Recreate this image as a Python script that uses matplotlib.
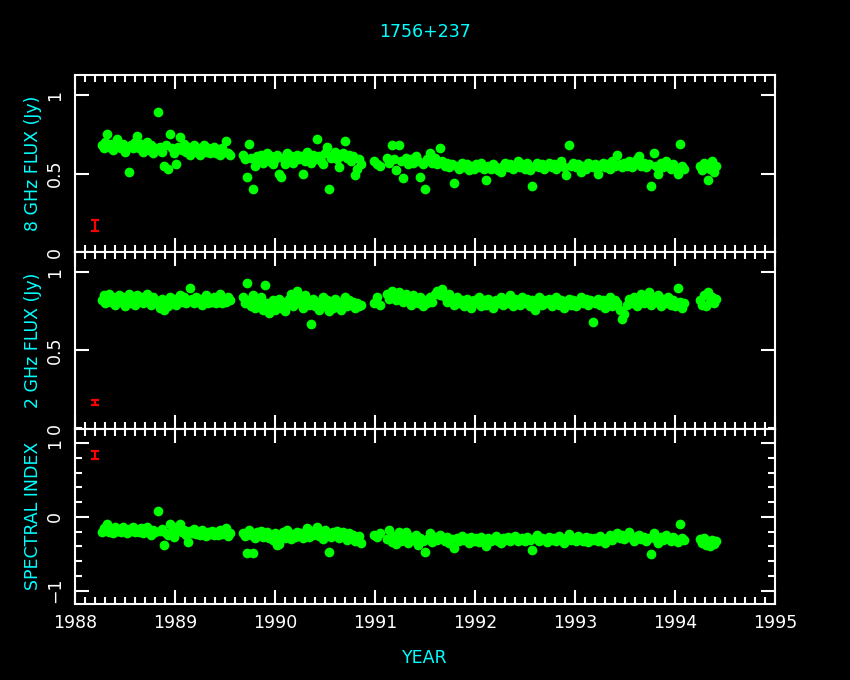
import numpy as np
import matplotlib
matplotlib.use("Agg")
import matplotlib.pyplot as plt
from matplotlib.ticker import MultipleLocator

# ---------------- data ----------------
t_a = [1988.27, 1988.29, 1988.30, 1988.32, 1988.34, 1988.36, 1988.38, 1988.40, 1988.42, 1988.44,
       1988.46, 1988.48, 1988.50, 1988.52, 1988.54, 1988.56, 1988.58, 1988.60, 1988.62, 1988.64,
       1988.66, 1988.68, 1988.70, 1988.72, 1988.74, 1988.76, 1988.78, 1988.80, 1988.83, 1988.85,
       1988.87, 1988.89, 1988.91, 1988.93, 1988.95, 1988.97, 1988.99, 1989.01, 1989.03, 1989.05,
       1989.07, 1989.09, 1989.11, 1989.13, 1989.15, 1989.17, 1989.19, 1989.21, 1989.23, 1989.25,
       1989.27, 1989.29, 1989.31, 1989.33, 1989.35, 1989.37, 1989.39, 1989.41, 1989.43, 1989.45,
       1989.47, 1989.49, 1989.51, 1989.53, 1989.55]
f8_a = [0.68, 0.66, 0.70, 0.75, 0.67, 0.69, 0.65, 0.68, 0.72, 0.67,
        0.66, 0.69, 0.64, 0.67, 0.51, 0.68, 0.66, 0.70, 0.74, 0.66,
        0.69, 0.64, 0.67, 0.70, 0.65, 0.68, 0.63, 0.66, 0.89, 0.67,
        0.64, 0.55, 0.68, 0.53, 0.75, 0.66, 0.63, 0.56, 0.67, 0.73,
        0.65, 0.69, 0.64, 0.67, 0.62, 0.66, 0.68, 0.64, 0.66, 0.62,
        0.65, 0.68, 0.64, 0.66, 0.63, 0.65, 0.67, 0.63, 0.65, 0.62,
        0.66, 0.64, 0.71, 0.63, 0.62]
f2_a = [0.82, 0.85, 0.80, 0.83, 0.86, 0.81, 0.84, 0.79, 0.83, 0.85,
        0.81, 0.84, 0.78, 0.82, 0.86, 0.80, 0.83, 0.79, 0.85, 0.82,
        0.84, 0.80, 0.83, 0.86, 0.81, 0.79, 0.84, 0.82, 0.80, 0.77,
        0.83, 0.76, 0.81, 0.78, 0.84, 0.80, 0.83, 0.79, 0.82, 0.85,
        0.81, 0.84, 0.80, 0.82, 0.90, 0.83, 0.80, 0.84, 0.81, 0.83,
        0.79, 0.82, 0.85, 0.80, 0.83, 0.81, 0.84, 0.80, 0.82, 0.86,
        0.80, 0.83, 0.81, 0.84, 0.82]
si_a = [-0.20, -0.15, -0.18, -0.10, -0.21, -0.17, -0.22, -0.14, -0.19, -0.16,
        -0.20, -0.13, -0.18, -0.22, -0.16, -0.19, -0.14, -0.21, -0.17, -0.20,
        -0.15, -0.22, -0.18, -0.14, -0.20, -0.24, -0.17, -0.21, 0.08, -0.19,
        -0.16, -0.38, -0.22, -0.25, -0.10, -0.20, -0.27, -0.13, -0.19, -0.09,
        -0.21, -0.17, -0.24, -0.34, -0.19, -0.22, -0.16, -0.23, -0.20, -0.25,
        -0.18, -0.22, -0.26, -0.20, -0.23, -0.19, -0.24, -0.21, -0.25, -0.18,
        -0.23, -0.20, -0.15, -0.26, -0.22]

t_b = [1989.68, 1989.70, 1989.72, 1989.74, 1989.76, 1989.78, 1989.80, 1989.82, 1989.84, 1989.86,
       1989.88, 1989.90, 1989.92, 1989.94, 1989.96, 1989.98, 1990.00, 1990.02, 1990.04, 1990.06,
       1990.08, 1990.10, 1990.12, 1990.14, 1990.16, 1990.18, 1990.20, 1990.22, 1990.24, 1990.26,
       1990.28, 1990.30, 1990.32, 1990.34, 1990.36, 1990.38, 1990.40, 1990.42, 1990.44, 1990.46,
       1990.48, 1990.50, 1990.52, 1990.54, 1990.56, 1990.58, 1990.60, 1990.62, 1990.64, 1990.66,
       1990.68, 1990.70, 1990.72, 1990.74, 1990.76, 1990.78, 1990.80, 1990.82, 1990.84, 1990.86]
f8_b = [0.62, 0.59, 0.48, 0.69, 0.60, 0.40, 0.55, 0.61, 0.58, 0.62,
        0.57, 0.60, 0.63, 0.58, 0.61, 0.56, 0.59, 0.62, 0.50, 0.48,
        0.60, 0.56, 0.63, 0.58, 0.61, 0.57, 0.60, 0.62, 0.59, 0.61,
        0.50, 0.58, 0.64, 0.60, 0.57, 0.62, 0.59, 0.72, 0.61, 0.58,
        0.56, 0.63, 0.67, 0.40, 0.60, 0.62, 0.64, 0.59, 0.54, 0.61,
        0.63, 0.71, 0.60, 0.62, 0.58, 0.61, 0.49, 0.53, 0.59, 0.56]
f2_b = [0.84, 0.80, 0.93, 0.82, 0.78, 0.85, 0.77, 0.81, 0.79, 0.84,
        0.76, 0.92, 0.80, 0.74, 0.78, 0.82, 0.76, 0.80, 0.83, 0.77,
        0.81, 0.75, 0.79, 0.83, 0.86, 0.78, 0.82, 0.88, 0.80, 0.84,
        0.77, 0.85, 0.81, 0.79, 0.67, 0.83, 0.78, 0.81, 0.76, 0.80,
        0.84, 0.78, 0.82, 0.75, 0.80, 0.77, 0.83, 0.79, 0.81, 0.76,
        0.80, 0.84, 0.78, 0.82, 0.79, 0.81, 0.77, 0.80, 0.78, 0.79]
si_b = [-0.22, -0.26, -0.49, -0.18, -0.24, -0.49, -0.28, -0.21, -0.25, -0.19,
        -0.27, -0.23, -0.20, -0.29, -0.24, -0.31, -0.22, -0.38, -0.36, -0.26,
        -0.21, -0.28, -0.17, -0.25, -0.30, -0.23, -0.27, -0.20, -0.26, -0.22,
        -0.29, -0.24, -0.15, -0.27, -0.19, -0.25, -0.21, -0.14, -0.26, -0.23,
        -0.30, -0.18, -0.24, -0.47, -0.27, -0.21, -0.25, -0.19, -0.29, -0.23,
        -0.20, -0.26, -0.31, -0.22, -0.28, -0.24, -0.33, -0.30, -0.26, -0.35]

t_c = [1990.99, 1991.02, 1991.05, 1991.12, 1991.14, 1991.17, 1991.19, 1991.21, 1991.24, 1991.26,
       1991.28, 1991.31, 1991.33, 1991.36, 1991.38, 1991.41, 1991.43, 1991.45, 1991.48, 1991.50,
       1991.52, 1991.55, 1991.57, 1991.60, 1991.62, 1991.65, 1991.67, 1991.70, 1991.72, 1991.74,
       1991.77, 1991.79, 1991.82, 1991.84, 1991.87, 1991.89, 1991.92, 1991.94, 1991.96, 1991.99,
       1992.01, 1992.04, 1992.06, 1992.09, 1992.11, 1992.13, 1992.16, 1992.18, 1992.21, 1992.23,
       1992.26, 1992.28, 1992.30, 1992.33, 1992.35, 1992.38, 1992.40, 1992.43, 1992.45, 1992.47,
       1992.50, 1992.52, 1992.55, 1992.57, 1992.60, 1992.62, 1992.64, 1992.67, 1992.69, 1992.72,
       1992.74, 1992.77, 1992.79, 1992.81, 1992.84, 1992.86, 1992.89, 1992.91, 1992.94, 1992.96,
       1992.98, 1993.01, 1993.03, 1993.06, 1993.08, 1993.11, 1993.13, 1993.15, 1993.18, 1993.20,
       1993.23, 1993.25, 1993.28, 1993.30, 1993.32, 1993.35, 1993.37, 1993.40, 1993.42, 1993.45,
       1993.47, 1993.49, 1993.52, 1993.54, 1993.57, 1993.59, 1993.62, 1993.64, 1993.66, 1993.69,
       1993.71, 1993.74, 1993.76, 1993.79, 1993.81, 1993.83, 1993.86, 1993.88, 1993.91, 1993.93,
       1993.96, 1993.98, 1994.00, 1994.03, 1994.05, 1994.07, 1994.09]
f8_c = [0.58, 0.56, 0.55, 0.60, 0.57, 0.68, 0.59, 0.52, 0.68, 0.58,
        0.47, 0.60, 0.56, 0.59, 0.57, 0.61, 0.58, 0.48, 0.56, 0.40,
        0.59, 0.63, 0.57, 0.60, 0.56, 0.66, 0.58, 0.55, 0.57, 0.54,
        0.56, 0.44, 0.55, 0.53, 0.57, 0.54, 0.56, 0.52, 0.55, 0.53,
        0.56, 0.54, 0.57, 0.53, 0.46, 0.55, 0.53, 0.56, 0.54, 0.52,
        0.51, 0.55, 0.57, 0.54, 0.56, 0.53, 0.55, 0.58, 0.54, 0.56,
        0.53, 0.57, 0.52, 0.42, 0.55, 0.57, 0.54, 0.56, 0.53, 0.55,
        0.57, 0.54, 0.56, 0.53, 0.55, 0.58, 0.54, 0.49, 0.68, 0.55,
        0.57, 0.54, 0.56, 0.51, 0.55, 0.53, 0.57, 0.55, 0.54, 0.56,
        0.50, 0.55, 0.57, 0.54, 0.56, 0.53, 0.58, 0.55, 0.62, 0.56,
        0.54, 0.57, 0.55, 0.58, 0.54, 0.56, 0.59, 0.61, 0.55, 0.57,
        0.54, 0.56, 0.42, 0.63, 0.55, 0.50, 0.57, 0.54, 0.58, 0.55,
        0.53, 0.56, 0.54, 0.50, 0.69, 0.55, 0.53]
f2_c = [0.80, 0.84, 0.79, 0.86, 0.83, 0.88, 0.85, 0.82, 0.87, 0.84,
        0.81, 0.86, 0.83, 0.79, 0.85, 0.82, 0.80, 0.84, 0.78, 0.82,
        0.80, 0.84, 0.81, 0.86, 0.88, 0.85, 0.89, 0.84, 0.81, 0.86,
        0.83, 0.79, 0.84, 0.80, 0.82, 0.78, 0.83, 0.81, 0.77, 0.82,
        0.80, 0.84, 0.78, 0.82, 0.79, 0.83, 0.81, 0.77, 0.82, 0.80,
        0.84, 0.79, 0.82, 0.80, 0.85, 0.78, 0.83, 0.81, 0.79, 0.84,
        0.80, 0.83, 0.78, 0.82, 0.76, 0.81, 0.84, 0.79, 0.82, 0.80,
        0.83, 0.78, 0.81, 0.84, 0.79, 0.82, 0.77, 0.80, 0.83, 0.79,
        0.82, 0.78, 0.81, 0.84, 0.80, 0.83, 0.79, 0.82, 0.68, 0.80,
        0.83, 0.79, 0.82, 0.77, 0.81, 0.84, 0.78, 0.82, 0.80, 0.76,
        0.70, 0.73, 0.79, 0.83, 0.80, 0.84, 0.78, 0.82, 0.86, 0.80,
        0.83, 0.87, 0.79, 0.84, 0.81, 0.85, 0.78, 0.83, 0.80, 0.84,
        0.79, 0.82, 0.78, 0.90, 0.81, 0.77, 0.80]
si_c = [-0.24, -0.27, -0.22, -0.30, -0.18, -0.34, -0.26, -0.37, -0.21, -0.32,
        -0.28, -0.20, -0.35, -0.27, -0.31, -0.24, -0.38, -0.29, -0.33, -0.47,
        -0.30, -0.22, -0.34, -0.27, -0.31, -0.25, -0.29, -0.33, -0.27, -0.35,
        -0.30, -0.42, -0.28, -0.33, -0.26, -0.31, -0.29, -0.35, -0.27, -0.32,
        -0.29, -0.34, -0.27, -0.31, -0.40, -0.28, -0.33, -0.30, -0.26, -0.32,
        -0.35, -0.28, -0.31, -0.27, -0.33, -0.29, -0.26, -0.32, -0.30, -0.28,
        -0.33, -0.27, -0.31, -0.45, -0.29, -0.25, -0.32, -0.28, -0.30, -0.34,
        -0.27, -0.31, -0.29, -0.33, -0.26, -0.30, -0.35, -0.28, -0.23, -0.31,
        -0.28, -0.33, -0.26, -0.30, -0.32, -0.27, -0.34, -0.29, -0.31, -0.28,
        -0.33, -0.26, -0.30, -0.35, -0.28, -0.24, -0.31, -0.27, -0.22, -0.29,
        -0.25, -0.30, -0.27, -0.21, -0.29, -0.32, -0.26, -0.24, -0.30, -0.27,
        -0.33, -0.28, -0.50, -0.22, -0.30, -0.35, -0.27, -0.31, -0.25, -0.29,
        -0.32, -0.27, -0.30, -0.34, -0.09, -0.28, -0.31]

t_d = [1994.25, 1994.27, 1994.29, 1994.31, 1994.33, 1994.35, 1994.37, 1994.39, 1994.41]
f8_d = [0.55, 0.52, 0.57, 0.54, 0.46, 0.53, 0.58, 0.51, 0.55]
f2_d = [0.82, 0.79, 0.85, 0.78, 0.87, 0.81, 0.84, 0.80, 0.83]
si_d = [-0.30, -0.35, -0.28, -0.38, -0.33, -0.40, -0.31, -0.36, -0.32]

# typical error bars (x, y, half-length) for each panel
err_x = [1988.20, 1988.20, 1988.20]
err_y = [0.17, 0.167, 0.84]
err_h = [0.035, 0.015, 0.05]

title = "1756+237"
ylabels = ["8 GHz FLUX (Jy)", "2 GHz FLUX (Jy)", "SPECTRAL INDEX"]
xlabel = "YEAR"
year_ticks = [1988, 1989, 1990, 1991, 1992, 1993, 1994, 1995]

t = np.array(t_a + t_b + t_c + t_d)
series = [np.array(f8_a + f8_b + f8_c + f8_d),
          np.array(f2_a + f2_b + f2_c + f2_d),
          np.array(si_a + si_b + si_c + si_d)]

# ---------------- styling ----------------
CYAN = "#00ffff"
GREEN = "#00ff00"
RED = "#ff0000"
FS = 12.5
plt.rcParams["font.family"] = ["DejaVu Sans"]

fig = plt.figure(figsize=(8.5, 6.8), dpi=100, facecolor="black")
W, H = 850.0, 680.0
left, right = 75 / W, 775 / W
bounds = [(75, 252), (252, 428.5), (428.5, 604)]
ylims = [(0, 1.128), (0, 1.128), (-1.18, 1.2)]
yt = [[0, 0.5, 1], [0, 0.5, 1], [-1, 0, 1]]
ytl = [["0", "0.5", "1"], ["0", "0.5", "1"], ["\u22121", "0", "1"]]

axes = []
for i, (top, bot) in enumerate(bounds):
    ax = fig.add_axes([left, 1 - bot / H, right - left, (bot - top) / H])
    ax.set_facecolor("black")
    ax.plot(t, series[i], ls="", marker="o", ms=7, mew=0, color=GREEN)
    ax.errorbar([err_x[i]], [err_y[i]], yerr=[err_h[i]], fmt="none",
                ecolor=RED, elinewidth=1.6, capsize=3, capthick=1.6)
    ax.set_xlim(1988, 1995)
    ax.set_ylim(*ylims[i])
    ax.set_yticks(yt[i])
    ax.set_yticklabels(ytl[i])
    ax.set_xticks(year_ticks)
    ax.xaxis.set_minor_locator(MultipleLocator(0.1))
    if i == 2:
        ax.yaxis.set_minor_locator(MultipleLocator(0.2))
    for s in ax.spines.values():
        s.set_color("white")
        s.set_linewidth(1.5)
    ax.tick_params(which="both", direction="in", top=True, right=True,
                   colors="white", width=1.5, labelsize=FS)
    ax.tick_params(which="major", length=10)
    ax.tick_params(which="minor", length=5)
    ax.tick_params(axis="y", labelrotation=90, pad=8)
    ax.tick_params(axis="x", pad=7)
    for lbl in ax.get_yticklabels():
        lbl.set_va("center")
    if i < 2:
        ax.tick_params(axis="x", labelbottom=False)
    ax.set_ylabel(ylabels[i], color=CYAN, fontsize=FS)
    ax.yaxis.set_label_coords(-0.047, 0.5)
    axes.append(ax)

fig.text(425 / W, 1 - 32 / H, title, color=CYAN, fontsize=FS, ha="center", va="center")
fig.text(425 / W, 1 - 658 / H, xlabel, color=CYAN, fontsize=FS, ha="center", va="center")

fig.savefig("out.png", dpi=100, facecolor="black")
